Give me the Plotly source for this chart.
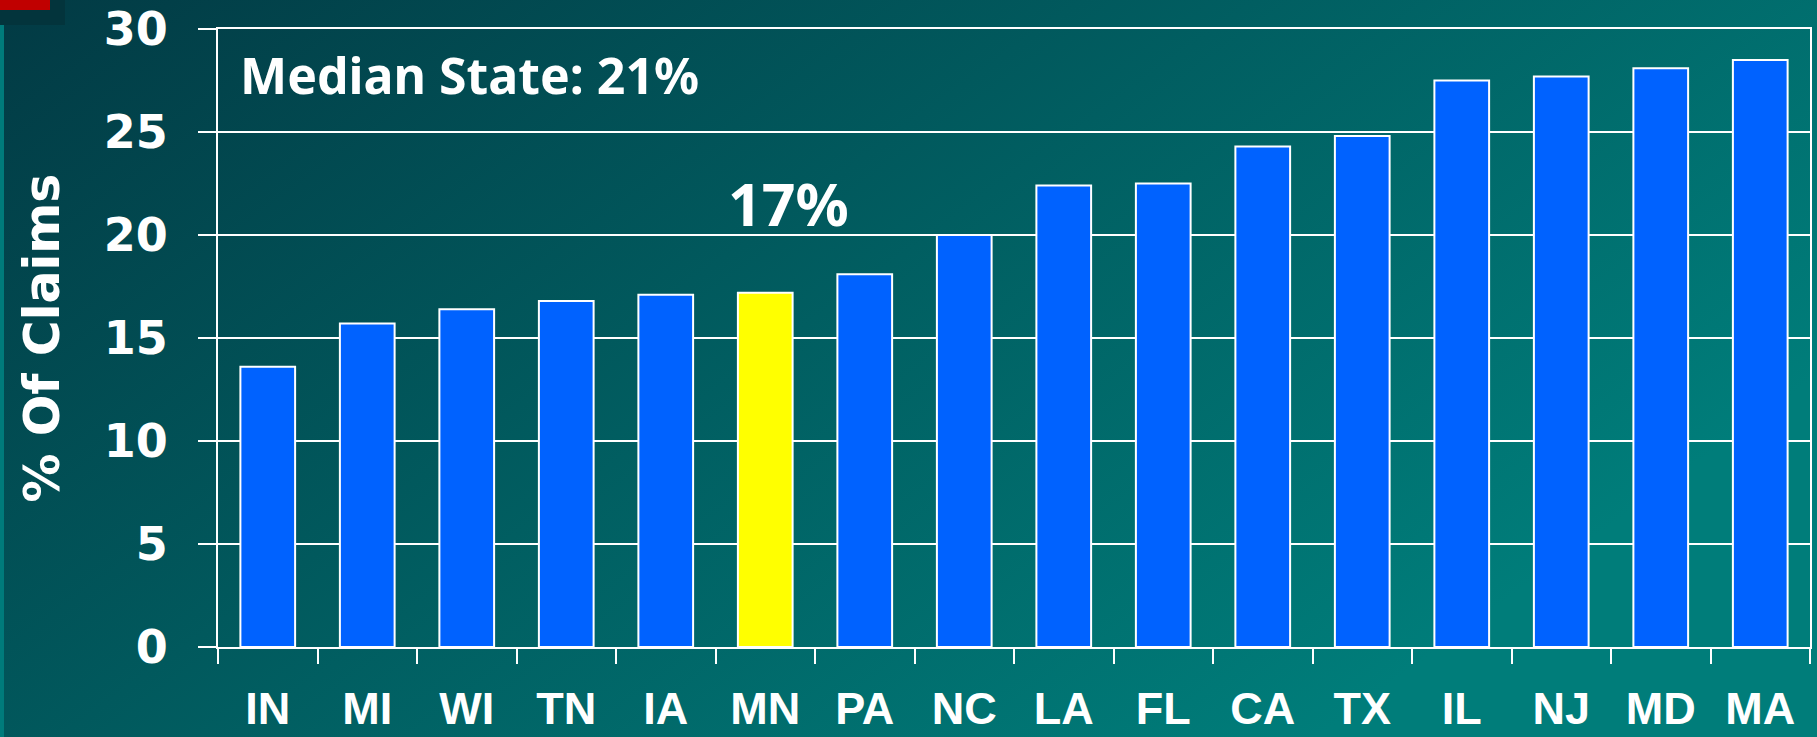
import base64
import plotly.graph_objects as go

# ---- data ----
states = ["IN", "MI", "WI", "TN", "IA", "MN", "PA", "NC",
          "LA", "FL", "CA", "TX", "IL", "NJ", "MD", "MA"]
pct_of_claims = [13.6, 15.7, 16.4, 16.8, 17.1, 17.2, 18.1, 20.0,
                 22.4, 22.5, 24.3, 24.8, 27.5, 27.7, 28.1, 28.5]
highlight_state = "MN"
y_tick_values = [0, 5, 10, 15, 20, 25, 30]
y_title = "% Of Claims"
median_text = "Median State: 21%"
highlight_text = "17%"

# ---- geometry (pixels) ----
W, H = 1817, 737
ML, MR, MT, MB = 218, 7, 29, 90
PW, PH = W - ML - MR, H - MT - MB


def px(x):
    return (x - ML) / PW


def py(y):
    return (H - MB - y) / PH


BLUE = "#0062ff"
YELLOW = "#ffff00"
bar_colors = [YELLOW if s == highlight_state else BLUE for s in states]

svg = f"""<svg xmlns='http://www.w3.org/2000/svg' width='{W}' height='{H}' viewBox='0 0 {W} {H}' preserveAspectRatio='none'>
<defs><linearGradient id='g' gradientUnits='userSpaceOnUse' x1='0' y1='0' x2='800' y2='1110'>
<stop offset='0' stop-color='#023a44'/><stop offset='1' stop-color='#007d7a'/></linearGradient></defs>
<rect width='{W}' height='{H}' fill='url(#g)'/></svg>"""
bg_src = "data:image/svg+xml;base64," + base64.b64encode(svg.encode()).decode()

fig = go.Figure(
    go.Bar(
        x=states,
        y=pct_of_claims,
        marker=dict(color=bar_colors, line=dict(color="white", width=2)),
        hoverinfo="x+y",
    )
)

fig.update_layout(
    width=W,
    height=H,
    margin=dict(l=ML, r=MR, t=MT, b=MB, pad=0, autoexpand=False),
    paper_bgcolor="#01525a",
    plot_bgcolor="rgba(0,0,0,0)",
    bargap=0.45,
    showlegend=False,
    images=[dict(
        source=bg_src, xref="paper", yref="paper",
        x=px(0), y=py(0), sizex=W / PW, sizey=H / PH,
        xanchor="left", yanchor="top", sizing="stretch", layer="below",
    )],
    shapes=[
        dict(type="rect", xref="paper", yref="paper", x0=px(0), x1=px(4),
             y0=py(H), y1=py(0), fillcolor="#007b7b", line=dict(width=0), layer="above"),
        dict(type="rect", xref="paper", yref="paper", x0=px(0), x1=px(65),
             y0=py(25), y1=py(0), fillcolor="#03343c", line=dict(width=0), layer="above"),
        dict(type="rect", xref="paper", yref="paper", x0=px(0), x1=px(50),
             y0=py(10), y1=py(0), fillcolor="#c00000", line=dict(width=0), layer="above"),
    ],
    annotations=[
        dict(text=median_text, xref="paper", yref="paper", x=px(238), y=py(75),
             xanchor="left", yanchor="middle", showarrow=False,
             font=dict(family="Noto Sans", size=50, color="white", weight="bold")),
        dict(text=highlight_text, xref="paper", yref="paper", x=px(788), y=py(203),
             xanchor="center", yanchor="middle", showarrow=False,
             font=dict(family="Noto Sans", size=59, color="white", weight="bold")),
    ],
)

fig.update_xaxes(
    type="category",
    automargin=False,
    showgrid=False,
    showline=True, linecolor="white", linewidth=2, mirror=True,
    ticks="outside", tickson="boundaries", ticklen=15, tickwidth=2, tickcolor="white",
    tickfont=dict(family="Liberation Sans Narrow, Liberation Sans, Arial", size=45,
                  color="white", weight="bold"),
    ticklabelstandoff=21,
    fixedrange=True,
)
fig.update_yaxes(
    automargin=False,
    range=[0, 30],
    tickvals=y_tick_values,
    showgrid=True, gridcolor="white", gridwidth=2,
    zeroline=False,
    showline=True, linecolor="white", linewidth=2, mirror=True,
    ticks="outside", ticklen=18, tickwidth=2, tickcolor="white",
    tickfont=dict(family="DejaVu Sans", size=46, color="white", weight="bold"),
    ticklabelstandoff=21,
    title=dict(text=y_title, standoff=29,
               font=dict(family="DejaVu Sans", size=49, color="white", weight="bold")),
    fixedrange=True,
)

post = (
    "document.documentElement.style.margin='0';"
    "document.body.style.margin='0';document.body.style.padding='0';"
    "document.body.style.overflow='hidden';"
    "var gd=document.getElementById('{plot_id}');"
    "gd.style.position='absolute';gd.style.left='0px';gd.style.top='0px';"
)

fig.write_html("out.html", post_script=post, config={"displayModeBar": False})
